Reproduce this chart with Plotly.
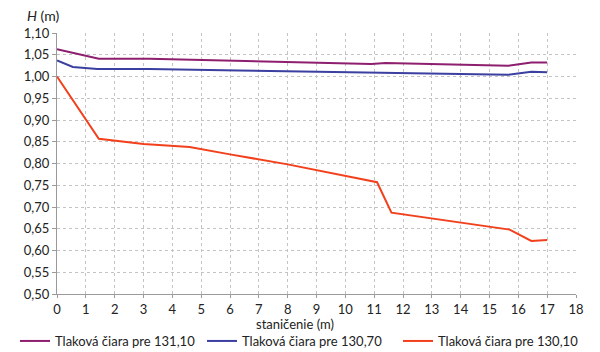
import plotly.graph_objects as go

# Data
x_131 = [0, 1.45, 3.2, 6.3, 10.9, 11.4, 13.3, 15.65, 16.45, 17.0]
y_131 = [1.063, 1.041, 1.041, 1.036, 1.029, 1.031, 1.028, 1.025, 1.032, 1.032]

x_1307 = [0, 0.55, 1.4, 3.2, 6.3, 10.9, 13.3, 15.65, 16.45, 17.0]
y_1307 = [1.037, 1.022, 1.017, 1.017, 1.014, 1.009, 1.007, 1.004, 1.011, 1.010]

x_1301 = [0, 1.45, 3.0, 4.6, 6.0, 8.0, 11.1, 11.6, 15.7, 16.45, 17.0]
y_1301 = [1.00, 0.857, 0.845, 0.838, 0.821, 0.798, 0.757, 0.687, 0.648, 0.622, 0.624]

names = ["Tlaková čiara pre 131,10", "Tlaková čiara pre 130,70", "Tlaková čiara pre 130,10"]
colors = ["#8e1f6e", "#3b3fa0", "#f2401c"]
legend_ids = ["legend", "legend2", "legend3"]
legend_x_px = [15, 202, 398]

font_family = "Lato, 'Open Sans', sans-serif"
FS = 13

fig = go.Figure()
for xs, ys, n, c, lg in zip([x_131, x_1307, x_1301], [y_131, y_1307, y_1301], names, colors, legend_ids):
    fig.add_trace(go.Scatter(x=xs, y=ys, name=n, mode="lines", legend=lg,
                             line=dict(color=c, width=2)))

legend_common = dict(orientation="h", xref="container", yref="container",
                     y=1 - 341 / 352, yanchor="middle", xanchor="left",
                     itemwidth=30, bgcolor="rgba(0,0,0,0)",
                     font=dict(size=FS, color="#222"))

fig.update_layout(
    width=600, height=352,
    margin=dict(l=57, r=24, t=33, b=58, autoexpand=False),
    paper_bgcolor="white", plot_bgcolor="white",
    separators=",.",
    font=dict(family=font_family, size=FS, color="#222"),
    showlegend=True,
    legend=dict(x=legend_x_px[0] / 600, **legend_common),
    legend2=dict(x=legend_x_px[1] / 600, **legend_common),
    legend3=dict(x=legend_x_px[2] / 600, **legend_common),
    annotations=[
        dict(text="<i>H</i> (m)", xref="paper", yref="paper", x=0, y=1,
             xshift=-32, yshift=18, xanchor="left", yanchor="middle",
             showarrow=False, font=dict(size=14, color="#222")),
        dict(text="staničenie (m)", xref="paper", yref="paper", x=(295 - 57) / 519, y=0,
             yshift=-30, xanchor="center", yanchor="middle",
             showarrow=False, font=dict(size=FS, color="#222")),
    ],
)
fig.update_xaxes(range=[0, 18], dtick=1, tick0=0, showgrid=True, gridcolor="#c4c4c4",
                 griddash="dot", gridwidth=1, showline=True, linecolor="#9a9a9a",
                 ticks="outside", ticklen=3, tickcolor="#9a9a9a", zeroline=False,
                 tickfont=dict(size=FS))
fig.update_yaxes(range=[0.5, 1.1], dtick=0.05, tick0=0.5, tickformat=".2f", showgrid=True,
                 gridcolor="#c4c4c4", griddash="dot", gridwidth=1, showline=True,
                 linecolor="#9a9a9a", ticks="outside", ticklen=4, tickcolor="#9a9a9a",
                 zeroline=False, tickfont=dict(size=FS))

fig.write_html("out.html")
